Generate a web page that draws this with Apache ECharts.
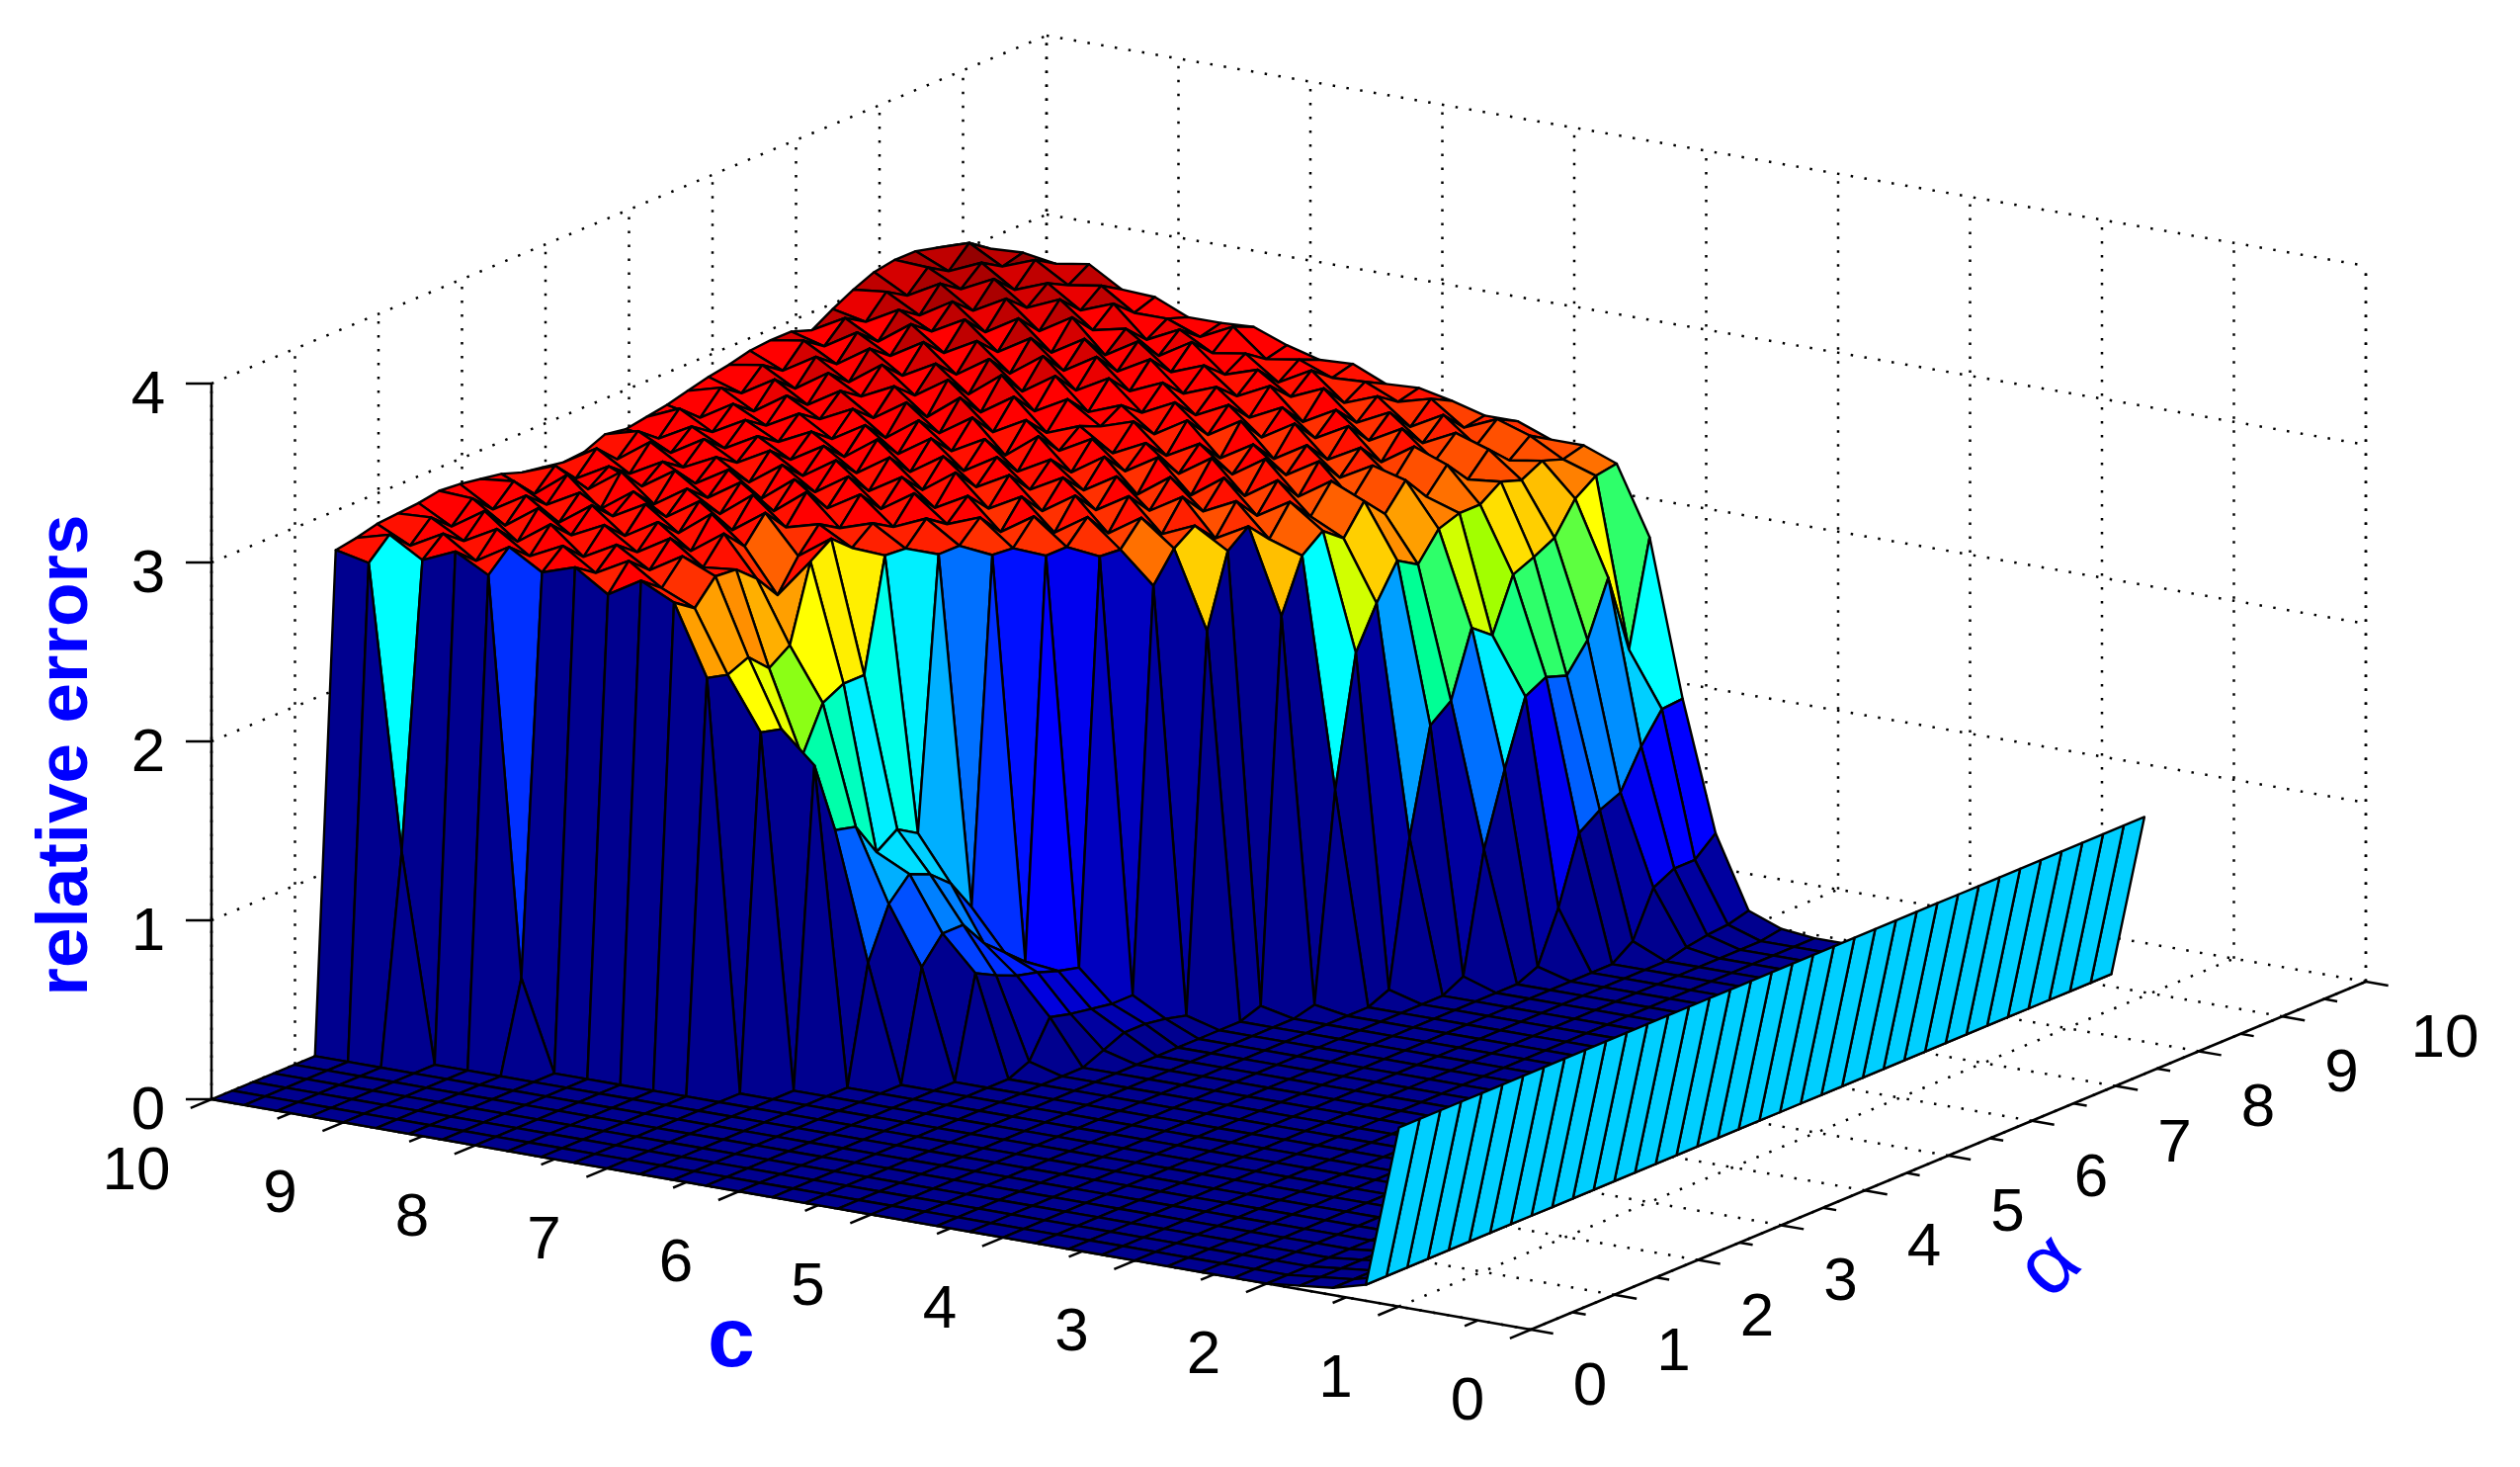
<!DOCTYPE html>
<html>
<head>
<meta charset="utf-8">
<title>relative errors</title>
<script src="https://cdn.jsdelivr.net/npm/echarts@6/dist/echarts.min.js"></script>
<style>
  html, body { margin: 0; background: #fff; }
  #chart { width: 2550px; height: 1484px; }
</style>
</head>
<body>
<div id="chart"></div>
<script>
const cTicks = [0, 1, 2, 3, 4, 5, 6, 7, 8, 9, 10]
const alphaTicks = [0, 1, 2, 3, 4, 5, 6, 7, 8, 9, 10]
const zTicks = [0, 1, 2, 3, 4]

// surface grid axes: c runs 10 -> 1 and alpha 0 -> about 9, both in quarter steps
const cGrid = [10, 9.75, 9.5, 9.25, 9, 8.75, 8.5, 8.25, 8, 7.75, 7.5, 7.25, 7, 6.75, 6.5, 6.25, 6, 5.75, 5.5, 5.25, 5, 4.75, 4.5, 4.25, 4, 3.75, 3.5, 3.25, 3, 2.75, 2.5, 2.25, 2, 1.75, 1.5, 1.25, 1]
const alphaStep = 0.248

// relative error, one row per cGrid value
const errors = [
  [0,0,0,0,0,0,2.78,2.8,2.83,2.84,2.85,2.87,2.86,2.84,2.82,2.78,2.76,2.74,2.75,2.8,2.78,2.8,2.82,2.85,2.88,2.9,2.93,2.94,2.94,2.9,2.97,3.03,3.08,3.1,3.1,3.07,3.04],
  [0,0,0,0,0,0,2.74,2.85,2.74,2.85,2.75,2.86,2.75,2.86,2.74,2.85,2.73,2.85,2.74,2.85,2.76,2.88,2.78,2.9,2.82,2.93,2.85,2.97,2.89,3.0,2.93,3.05,2.98,3.09,3.02,3.13,3.05],
  [0,0,0,0,0,0,1.16,2.74,2.84,2.75,2.87,2.74,2.86,2.76,2.88,2.75,2.83,2.74,2.87,2.76,2.86,2.78,2.89,2.8,2.93,2.83,2.96,2.87,3.0,2.9,3.03,2.95,3.08,3.0,3.1,3.03,3.06],
  [0,0,0,0,0,0,0,2.82,2.72,2.85,2.73,2.87,2.74,2.86,2.72,2.88,2.75,2.84,2.76,2.87,2.77,2.88,2.8,2.92,2.82,2.95,2.85,2.99,2.9,3.03,2.94,3.06,2.96,3.09,2.98,3.1,3.03],
  [0,0,0,0,0,0,0,2.72,2.83,2.73,2.86,2.75,2.87,2.76,2.85,2.73,2.87,2.75,2.85,2.77,2.87,2.79,2.9,2.82,2.93,2.85,2.98,2.87,3.01,2.9,3.04,2.92,3.06,2.96,3.05,2.99,3.06],
  [0,0,0,0,0,0,0,0.5,2.72,2.82,2.71,2.84,2.73,2.86,2.74,2.85,2.75,2.86,2.74,2.87,2.77,2.88,2.79,2.91,2.81,2.94,2.84,2.97,2.86,3.0,2.89,3.03,2.91,3.04,2.93,3.02,2.95],
  [0,0,0,0,0,0,0,0,2.78,2.7,2.81,2.72,2.84,2.73,2.86,2.74,2.87,2.73,2.87,2.76,2.88,2.77,2.9,2.78,2.93,2.8,2.96,2.83,2.98,2.85,3.0,2.87,3.02,2.9,3.0,2.9,2.94],
  [0,0,0,0,0,0,0,0,2.66,2.8,2.7,2.83,2.71,2.87,2.73,2.88,2.74,2.87,2.75,2.88,2.76,2.9,2.77,2.91,2.79,2.94,2.81,2.97,2.83,2.98,2.85,2.98,2.84,2.94,2.83,2.9,2.86],
  [0,0,0,0,0,0,0,0,2.77,2.68,2.81,2.7,2.84,2.72,2.86,2.73,2.88,2.74,2.87,2.74,2.88,2.75,2.89,2.77,2.91,2.78,2.93,2.8,2.95,2.82,2.96,2.83,2.95,2.82,2.92,2.83,2.86],
  [0,0,0,0,0,0,0,0,2.68,2.6,2.73,2.72,2.62,2.48,2.65,2.78,2.71,2.85,2.72,2.85,2.73,2.87,2.74,2.87,2.73,2.88,2.76,2.9,2.78,2.92,2.8,2.93,2.81,2.93,2.82,2.92,2.87],
  [0,0,0,0,0,0,0,0,2.29,2.26,2.31,2.2,2.28,2.7,2.78,2.68,2.77,2.7,2.84,2.71,2.86,2.73,2.85,2.72,2.87,2.74,2.83,2.78,2.85,2.76,2.88,2.77,2.88,2.78,2.85,2.77,2.8],
  [0,0,0,0,0,0,0,0,0,1.97,1.94,1.74,1.99,2.05,2.05,2.67,2.66,2.78,2.7,2.81,2.69,2.83,2.7,2.82,2.7,2.84,2.71,2.84,2.72,2.85,2.73,2.84,2.74,2.84,2.72,2.8,2.75],
  [0,0,0,0,0,0,0,0,0,0,1.77,1.36,1.33,1.14,1.22,1.15,2.66,2.66,2.77,2.64,2.79,2.66,2.8,2.68,2.82,2.69,2.8,2.68,2.83,2.7,2.82,2.7,2.83,2.72,2.82,2.73,2.76],
  [0,0,0,0,0,0,0,0,0,0,0,0.65,0.93,1.05,1.0,0.9,0.72,2.64,2.63,2.76,2.62,2.78,2.65,2.79,2.64,2.8,2.66,2.78,2.65,2.81,2.67,2.79,2.66,2.8,2.67,2.74,2.68],
  [0,0,0,0,0,0,0,0,0,0,0,0,0.61,0.75,0.75,0.6,0.5,0.4,2.62,2.62,2.74,2.6,2.76,2.63,2.77,2.62,2.78,2.64,2.76,2.63,2.78,2.65,2.76,2.64,2.74,2.66,2.69],
  [0,0,0,0,0,0,0,0,0,0,0,0,0,0.56,0.5,0.45,0.42,0.38,0.35,2.6,2.59,2.72,2.58,2.74,2.61,2.75,2.6,2.76,2.62,2.74,2.61,2.75,2.62,2.73,2.6,2.71,2.65],
  [0,0,0,0,0,0,0,0,0,0,0,0,0,0,0.05,0.25,0.22,0.2,0.18,0.18,2.42,2.58,2.66,2.54,2.7,2.57,2.72,2.58,2.73,2.59,2.71,2.58,2.72,2.59,2.7,2.58,2.6],
  [0,0,0,0,0,0,0,0,0,0,0,0,0,0,0,0,0.05,0.1,0.1,0.08,0.05,2.15,2.55,2.64,2.52,2.68,2.55,2.7,2.55,2.69,2.56,2.7,2.57,2.68,2.56,2.66,2.6],
  [0,0,0,0,0,0,0,0,0,0,0,0,0,0,0,0,0,0,0,0,0,0,0.04,2.17,2.46,2.55,2.46,2.62,2.5,2.64,2.5,2.63,2.5,2.62,2.51,2.6,2.53],
  [0,0,0,0,0,0,0,0,0,0,0,0,0,0,0,0,0,0,0,0,0,0,0,0.03,1.18,1.9,2.13,2.32,2.25,2.4,2.44,2.44,2.52,2.48,2.54,2.5,2.53],
  [0,0,0,0,0,0,0,0,0,0,0,0,0,0,0,0,0,0,0,0,0,0,0,0,0,0.05,0.85,1.43,1.52,1.88,1.79,2.08,2.13,2.19,2.36,2.44,2.46],
  [0,0,0,0,0,0,0,0,0,0,0,0,0,0,0,0,0,0,0,0,0,0,0,0,0,0,0,0.06,0.72,1.12,1.48,1.54,1.5,1.65,1.95,1.5,2.08],
  [0,0,0,0,0,0,0,0,0,0,0,0,0,0,0,0,0,0,0,0,0,0,0,0,0,0,0,0,0,0.05,0.33,0.7,0.78,0.83,1.04,1.2,1.21],
  [0,0,0,0,0,0,0,0,0,0,0,0,0,0,0,0,0,0,0,0,0,0,0,0,0,0,0,0,0,0,0,0,0.08,0.33,0.39,0.39,0.49],
  [0,0,0,0,0,0,0,0,0,0,0,0,0,0,0,0,0,0,0,0,0,0,0,0,0,0,0,0,0,0,0,0,0,0.03,0.05,0.06,0.09],
  [0,0,0,0,0,0,0,0,0,0,0,0,0,0,0,0,0,0,0,0,0,0,0,0,0,0,0,0,0,0,0,0,0,0,0,0,0.02],
  [0,0,0,0,0,0,0,0,0,0,0,0,0,0,0,0,0,0,0,0,0,0,0,0,0,0,0,0,0,0,0,0,0,0,0,0,0],
  [0,0,0,0,0,0,0,0,0,0,0,0,0,0,0,0,0,0,0,0,0,0,0,0,0,0,0,0,0,0,0,0,0,0,0,0,0],
  [0,0,0,0,0,0,0,0,0,0,0,0,0,0,0,0,0,0,0,0,0,0,0,0,0,0,0,0,0,0,0,0,0,0,0,0,0],
  [0,0,0,0,0,0,0,0,0,0,0,0,0,0,0,0,0,0,0,0,0,0,0,0,0,0,0,0,0,0,0,0,0,0,0,0,0],
  [0,0,0,0,0,0,0,0,0,0,0,0,0,0,0,0,0,0,0,0,0,0,0,0,0,0,0,0,0,0,0,0,0,0,0,0,0],
  [0,0,0,0,0,0,0,0,0,0,0,0,0,0,0,0,0,0,0,0,0,0,0,0,0,0,0,0,0,0,0,0,0,0,0,0,0],
  [0,0,0,0,0,0,0,0,0,0,0,0,0,0,0,0,0,0,0,0,0,0,0,0,0,0,0,0,0,0,0,0,0,0,0,0,0],
  [0.02,0.02,0.02,0.02,0.02,0.02,0.02,0.02,0.02,0.02,0.02,0.02,0.02,0.02,0.02,0.02,0.02,0.02,0.02,0.02,0.02,0.02,0.02,0.02,0.02,0.02,0.02,0.02,0.02,0.02,0.02,0.02,0.02,0.02,0.02,0.02,0.02],
  [0.04,0.04,0.04,0.04,0.04,0.04,0.04,0.04,0.04,0.04,0.04,0.04,0.04,0.04,0.04,0.04,0.04,0.04,0.04,0.04,0.04,0.04,0.04,0.04,0.04,0.04,0.04,0.04,0.04,0.04,0.04,0.04,0.04,0.04,0.04,0.04,0.04],
  [0.09,0.09,0.09,0.09,0.09,0.09,0.09,0.09,0.09,0.09,0.09,0.09,0.09,0.09,0.09,0.09,0.09,0.09,0.09,0.09,0.09,0.09,0.09,0.09,0.09,0.09,0.09,0.09,0.09,0.09,0.09,0.09,0.09,0.09,0.09,0.09,0.09],
  [1,1,1,1,1,1,1,1,1,1,1,1,1,1,1,1,1,1,1,1,1,1,1,1,1,1,1,1,1,1,1,1,1,1,1,1,1]
]

const zMax = 3.2
const textFont = '"Liberation Sans", Arial, sans-serif'

// view of the box, plane units are the hidden axes' units
const origin = [1549, 1345]
const cVec = [-133.5, -23.3]
const alphaVec = [84.5, -35.2]
const zVec = [0, -181]

function project(c, a, z) {
  return [
    origin[0] + c * cVec[0] + a * alphaVec[0] + z * zVec[0],
    origin[1] + c * cVec[1] + a * alphaVec[1] + z * zVec[1]
  ]
}

// jet in 64 steps, the cyan to yellow part leans on pure green like the picture does
function jet(v) {
  const t = Math.max(0, Math.min(1, v / zMax))
  const i = Math.min(63, Math.floor(t * 64))
  const clamp = (n) => Math.max(0, Math.min(1, n))
  const r = i < 40 ? clamp((i - 28) / 11) : i < 58 ? 1 : 1 - (i - 57) / 12
  const g = i < 8 ? 0 : i < 24 ? clamp((i - 7) / 16) : i < 40 ? 1 : 1 - clamp((i - 39) / 16)
  const b = i < 8 ? 0.5 + (i + 1) / 16 : i < 24 ? 1 : 1 - clamp((i - 23) / 12)
  return 'rgb(' + [r, g, b].map((x) => Math.round(x * 255)).join(',') + ')'
}

// back to front so nearer cells paint over farther ones
const cells = []
for (let j = 0; j < cGrid.length - 1; j++) {
  for (let k = errors[j].length - 2; k >= 0; k--) {
    cells.push([
      cGrid[j], cGrid[j + 1], k * alphaStep, (k + 1) * alphaStep,
      errors[j][k], errors[j][k + 1], errors[j + 1][k + 1], errors[j + 1][k]
    ])
  }
}

const dotted = []
const solid = []
const addLine = (list, a, b) => list.push([a[0], a[1], b[0], b[1]])

const maxC = cTicks[cTicks.length - 1]
const maxA = alphaTicks[alphaTicks.length - 1]
const maxZ = zTicks[zTicks.length - 1]
cTicks.forEach((c) => {
  addLine(dotted, project(c, 0, 0), project(c, maxA, 0))
  addLine(dotted, project(c, maxA, 0), project(c, maxA, maxZ))
  addLine(solid, project(c, 0, 0), project(c, -0.25, 0))
  if (c < maxC) addLine(solid, project(c + 0.4, 0, 0), project(c + 0.4, -0.16, 0))
})
alphaTicks.forEach((a) => {
  addLine(dotted, project(0, a, 0), project(maxC, a, 0))
  addLine(dotted, project(maxC, a, 0), project(maxC, a, maxZ))
  addLine(solid, project(0, a, 0), project(-0.17, a, 0))
  if (a < maxA) addLine(solid, project(0, a + 0.5, 0), project(-0.1, a + 0.5, 0))
})
zTicks.forEach((z) => {
  if (z > 0) {
    addLine(dotted, project(maxC, 0, z), project(maxC, maxA, z))
    addLine(dotted, project(maxC, maxA, z), project(0, maxA, z))
  }
  const p = project(maxC, 0, z)
  addLine(solid, p, [p[0] - 26, p[1]])
})
addLine(dotted, project(0, maxA, 0), project(0, maxA, maxZ))
addLine(solid, project(maxC, 0, 0), project(0, 0, 0))
addLine(solid, project(0, 0, 0), project(0, maxA, 0))
addLine(solid, project(maxC, 0, 0), project(maxC, 0, maxZ))

const labels = []
cTicks.forEach((c) => {
  const p = project(c, 0, 0)
  labels.push([p[0] - (c === 10 ? 76 : 64), p[1] + 74, String(c)])
})
alphaTicks.forEach((a) => {
  const p = project(0, a, 0)
  labels.push([p[0] + (a === 10 ? 80 : 60), p[1] + 59, String(a)])
})
zTicks.forEach((z) => {
  const p = project(maxC, 0, z)
  labels.push([p[0] - 64, p[1] + 13, String(z)])
})

function lineSeries(data, style) {
  return {
    type: 'custom',
    silent: true,
    coordinateSystem: 'cartesian2d',
    clip: false,
    data,
    renderItem(params, api) {
      const a = api.coord([api.value(0), api.value(1)])
      const b = api.coord([api.value(2), api.value(3)])
      return {
        type: 'line',
        shape: { x1: a[0], y1: a[1], x2: b[0], y2: b[1] },
        style
      }
    }
  }
}

const axisTitles = [
  { pos: [68, 764], text: 'relative errors', weight: 'bold', size: 73, rotation: Math.PI / 2 },
  { pos: [740, 1358], text: 'c', weight: 'bold', size: 86, rotation: 0 },
  { pos: [2075, 1282], text: 'α', weight: 'normal', size: 86, rotation: Math.PI / 4 }
]

const chart = echarts.init(document.getElementById('chart'))
chart.setOption({
  animation: false,
  backgroundColor: '#fff',
  grid: { left: 0, right: 0, top: 0, bottom: 0 },
  xAxis: { type: 'value', min: 0, max: 2550, show: false },
  yAxis: { type: 'value', min: 0, max: 1484, inverse: true, show: false },
  series: [
    lineSeries(dotted, { stroke: '#000', lineWidth: 2.5, lineDash: [2.5, 11.5] }),
    lineSeries(solid, { stroke: '#000', lineWidth: 2.5 }),
    {
      type: 'custom',
      silent: true,
      coordinateSystem: 'cartesian2d',
      clip: false,
      progressive: 0,
      data: cells,
      renderItem(params, api) {
        const c0 = api.value(0)
        const c1 = api.value(1)
        const a0 = api.value(2)
        const a1 = api.value(3)
        const pts = [
          project(c0, a0, api.value(4)),
          project(c0, a1, api.value(5)),
          project(c1, a1, api.value(6)),
          project(c1, a0, api.value(7))
        ].map((p) => api.coord(p))
        return {
          type: 'polygon',
          shape: { points: pts },
          // flat shading: the corner with the lowest c and alpha sets the colour
          style: { fill: jet(api.value(7)), stroke: '#000', lineWidth: 2.4, lineJoin: 'round' }
        }
      }
    },
    {
      type: 'custom',
      silent: true,
      coordinateSystem: 'cartesian2d',
      clip: false,
      data: labels,
      renderItem(params, api) {
        const p = api.coord([api.value(0), api.value(1)])
        return {
          type: 'text',
          x: p[0],
          y: p[1],
          style: {
            text: labels[params.dataIndex][2],
            fill: '#000',
            font: '62px ' + textFont,
            align: 'center',
            verticalAlign: 'middle'
          }
        }
      }
    },
    {
      type: 'custom',
      silent: true,
      coordinateSystem: 'cartesian2d',
      clip: false,
      data: axisTitles.map((t) => t.pos),
      renderItem(params, api) {
        const t = axisTitles[params.dataIndex]
        const p = api.coord([api.value(0), api.value(1)])
        return {
          type: 'text',
          x: p[0],
          y: p[1],
          rotation: t.rotation,
          style: {
            text: t.text,
            fill: '#0000ff',
            font: t.weight + ' ' + t.size + 'px ' + textFont,
            align: 'center',
            verticalAlign: 'middle'
          }
        }
      }
    }
  ]
})
</script>
</body>
</html>
